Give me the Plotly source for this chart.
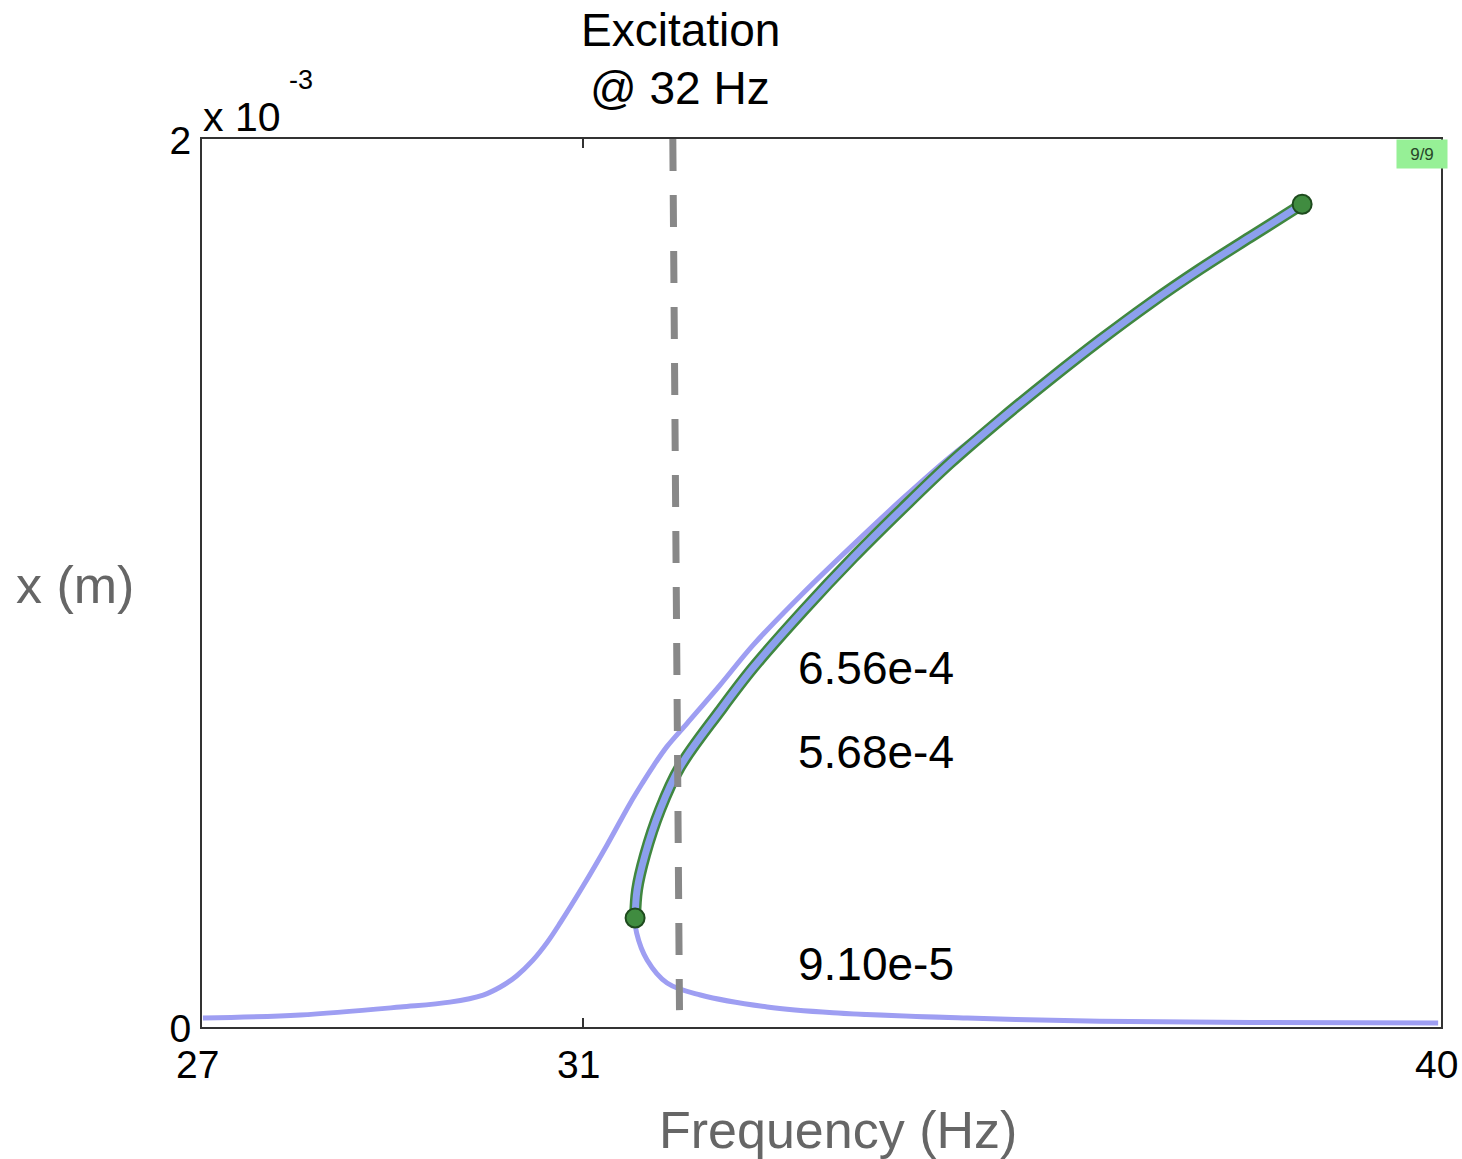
import plotly.graph_objects as go

# ---- data (frequency in Hz, amplitude in units of 1e-3 m) ----
# full frequency response path: lower branch -> upper stable branch -> peak -> unstable branch -> lower right branch
frf_freq = [27.01, 28.03, 29.08, 29.60, 29.95, 30.13, 30.30, 30.47, 30.62, 30.76, 31.00, 31.25, 31.49, 31.62,
            31.73, 31.88, 32.09, 32.435, 32.782, 33.306, 33.831, 34.356, 34.849, 35.373, 35.898, 36.423,
            36.947, 37.472, 37.997, 38.543,
            37.997, 37.472, 36.947, 36.423, 35.898, 35.373, 34.849, 34.356, 33.831, 33.306, 32.782, 32.435,
            32.016, 31.806, 31.648, 31.565, 31.544,
            31.56, 31.67, 31.88, 32.23, 32.93, 33.62, 35.03, 36.42, 38.00, 39.97]
frf_amp = [0.020, 0.027, 0.045, 0.056, 0.072, 0.090, 0.115, 0.150, 0.190, 0.235, 0.318, 0.410, 0.503, 0.549,
           0.586, 0.632, 0.684, 0.770, 0.860, 0.977, 1.086, 1.191, 1.284, 1.372, 1.462, 1.547,
           1.630, 1.707, 1.779, 1.853,
           1.779, 1.707, 1.630, 1.547, 1.459, 1.367, 1.270, 1.169, 1.057, 0.937, 0.809, 0.712,
           0.586, 0.489, 0.387, 0.309, 0.2455,
           0.212, 0.151, 0.099, 0.072, 0.045, 0.032, 0.020, 0.013, 0.010, 0.009]

# highlighted (unstable) branch
unst_freq = [31.544, 31.565, 31.648, 31.806, 32.016, 32.435, 32.782, 33.306, 33.831, 34.356, 34.849,
             35.373, 35.898, 36.423, 36.947, 37.472, 37.997, 38.543]
unst_amp = [0.2455, 0.309, 0.387, 0.489, 0.586, 0.712, 0.809, 0.937, 1.057, 1.169, 1.270,
            1.367, 1.459, 1.547, 1.630, 1.707, 1.779, 1.853]

excitation_freq = 32
labels_text = ["6.56e-4", "5.68e-4", "9.10e-5"]
labels_amp = [0.8086, 0.619, 0.142]
labels_freq = [34.07, 34.07, 34.07]

x_ticks = [27, 31, 40]
y_ticks = [0, 2]
scale = 1e-3

FONT = "Liberation Sans, Arial, Helvetica, sans-serif"
SMOOTH = 1.0

fig = go.Figure()

fig.add_trace(go.Scatter(
    x=frf_freq, y=[v * scale for v in frf_amp], mode="lines",
    line=dict(color="rgb(158,158,242)", width=5, shape="spline", smoothing=SMOOTH),
    hoverinfo="skip", showlegend=False))

fig.add_trace(go.Scatter(
    x=unst_freq, y=[v * scale for v in unst_amp], mode="lines",
    line=dict(color="rgb(64,135,64)", width=12, shape="spline", smoothing=SMOOTH),
    hoverinfo="skip", showlegend=False))
fig.add_trace(go.Scatter(
    x=unst_freq, y=[v * scale for v in unst_amp], mode="lines",
    line=dict(color="rgb(140,160,238)", width=7, shape="spline", smoothing=SMOOTH),
    hoverinfo="skip", showlegend=False))
fig.add_trace(go.Scatter(
    x=[unst_freq[0], unst_freq[-1]], y=[unst_amp[0] * scale, unst_amp[-1] * scale], mode="markers",
    marker=dict(size=19, color="rgb(64,140,64)", line=dict(color="rgb(30,75,30)", width=2)),
    hoverinfo="skip", showlegend=False))

# dashed excitation line
fig.add_shape(type="line", xref="x", yref="y",
              x0=excitation_freq - 0.06, y0=2.0 * scale, x1=excitation_freq + 0.01, y1=0.038 * scale,
              line=dict(color="rgb(136,136,136)", width=7, dash="32px,24px"))

for t, fx, fy in zip(labels_text, labels_freq, labels_amp):
    fig.add_annotation(x=fx, y=fy * scale, xref="x", yref="y", text=t, showarrow=False,
                       font=dict(family=FONT, size=46, color="black"), xanchor="center", yanchor="middle")

# Excitation title
fig.add_annotation(x=32.02, y=1.1227, xref="x", yref="paper", text="Excitation", showarrow=False,
                   font=dict(family=FONT, size=46, color="black"), xanchor="center", yanchor="middle")
fig.add_annotation(x=32.02, y=1.0574, xref="x", yref="paper", text="@ 32 Hz", showarrow=False,
                   font=dict(family=FONT, size=46, color="black"), xanchor="center", yanchor="middle")

# x tick labels (as text so the right-most one is not clipped)
for v in x_ticks:
    fig.add_annotation(x=v, y=-0.0418, xref="x", yref="paper", text=str(v), showarrow=False, xshift=-5,
                       font=dict(family=FONT, size=39, color="black"), xanchor="center", yanchor="middle")

# exponent label
fig.add_annotation(x=-0.001, y=1.025, xref="paper", yref="paper", text="x 10", showarrow=False,
                   font=dict(family=FONT, size=41, color="black"), xanchor="left", yanchor="middle")
fig.add_annotation(x=0.0686, y=1.066, xref="paper", yref="paper", text="-3", showarrow=False,
                   font=dict(family=FONT, size=27, color="black"), xanchor="left", yanchor="middle")

# axis titles
fig.add_annotation(x=-0.1025, y=0.4977, xref="paper", yref="paper", text="x (m)", showarrow=False,
                   font=dict(family=FONT, size=52, color="rgb(102,102,102)"), xanchor="center", yanchor="middle")
fig.add_annotation(x=0.5133, y=-0.116, xref="paper", yref="paper", text="Frequency (Hz)", showarrow=False,
                   font=dict(family=FONT, size=52, color="rgb(102,102,102)"), xanchor="center", yanchor="middle")

# 9/9 badge
fig.add_annotation(x=0.9847, y=0.983, xref="paper", yref="paper", text="9/9", showarrow=False,
                   font=dict(family=FONT, size=17, color="rgb(40,70,40)"), bgcolor="rgb(150,240,150)",
                   width=48, height=26, xanchor="center", yanchor="middle")

fig.update_layout(
    width=1462, height=1159,
    margin=dict(l=202, r=21, t=139, b=132),
    paper_bgcolor="white", plot_bgcolor="white",
    font=dict(family=FONT, color="black"),
    showlegend=False,
)
fig.update_xaxes(range=[27, 40], tickvals=x_ticks, showticklabels=False,
                 showgrid=False, zeroline=False, showline=True, linecolor="rgb(50,50,50)", linewidth=2,
                 mirror="ticks", ticks="inside", ticklen=9, tickwidth=2, tickcolor="rgb(50,50,50)")
fig.update_yaxes(range=[0, 2 * scale], tickvals=[v * scale for v in y_ticks], ticktext=[str(v) for v in y_ticks],
                 showgrid=False, zeroline=False, showline=True, linecolor="rgb(50,50,50)", linewidth=2,
                 mirror="ticks", ticks="inside", ticklen=9, tickwidth=2, tickcolor="rgb(50,50,50)",
                 tickfont=dict(family=FONT, size=39, color="black"), ticklabelstandoff=1,
                 ticklabelshift=1)

fig.write_html("out.html")
